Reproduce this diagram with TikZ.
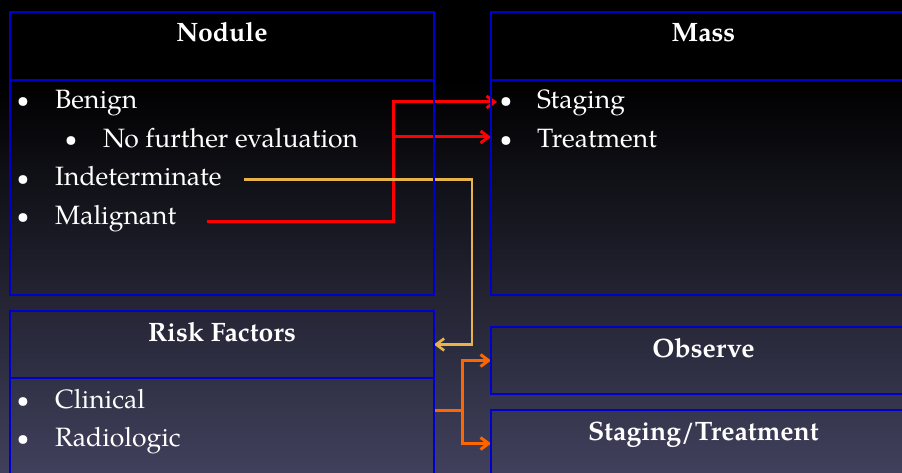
\documentclass[tikz,border=0pt]{standalone}
\usepackage{fontspec}
\setmainfont{TeX Gyre Pagella}
\usetikzlibrary{arrows.meta}
\definecolor{boxblue}{RGB}{0,0,205}
\definecolor{bgbot}{RGB}{64,64,92}
\definecolor{redc}{RGB}{255,0,0}
\definecolor{yelc}{RGB}{232,180,74}
\definecolor{orac}{RGB}{255,102,0}
\pgfdeclarelayer{bglayer}
\pgfdeclarelayer{midlayer}
\pgfsetlayers{bglayer,midlayer,main}
\begin{document}
\begin{tikzpicture}[x=1pt,y=1pt,
  box/.style={draw=boxblue, line width=1.5pt, inner sep=0pt, outer sep=0pt},
  head/.style={text=white, font=\fontsize{26.6}{30}\selectfont\bfseries, anchor=base, inner sep=0pt},
  item/.style={text=white, font=\fontsize{26.5}{30}\selectfont, anchor=base west, inner sep=0pt},
  dot/.style={text=white, font=\fontsize{22}{30}\selectfont, anchor=base, inner sep=0pt},
  conn/.style={line width=3pt, -{Straight Barb[length=8pt,width=12pt]}},
  plain/.style={line width=3pt},
]
\useasboundingbox (0,0) rectangle (902,472);
\clip (0,0) rectangle (902,472);
\begin{pgfonlayer}{bglayer}
  \fill[black] (0,0) rectangle (902,472);
  \shade[top color=black, bottom color=bgbot] (0,0) rectangle (902,392);
\end{pgfonlayer}

% boxes
\node[box, minimum width=424pt, minimum height=68pt] (nodhead) at (222,426) {};
\node[box, minimum width=424pt, minimum height=215pt] (nodbody) at (222,284.5) {};
\node[box, minimum width=425pt, minimum height=68pt] (masshead) at (703.5,426) {};
\node[box, minimum width=425pt, minimum height=215pt] (massbody) at (703.5,284.5) {};
\node[box, minimum width=424pt, minimum height=67pt] (riskhead) at (222,127.5) {};
\node[box, minimum width=424pt, minimum height=162pt] (riskbody) at (222,13) {};
\node[box, minimum width=425pt, minimum height=67pt] (observe) at (703.5,111.5) {};
\node[box, minimum width=425pt, minimum height=67pt] (stagtreat) at (703.5,28.5) {};

% headers
\node[head] (tnodule) at (222,430) {Nodule};
\node[head] (tmass) at (703.5,430) {Mass};
\node[head] (trisk) at (222,131) {Risk Factors};
\node[head] (tobserve) at (703.5,115) {Observe};
\node[head] (tstagtreat) at (703.5,32) {Staging/Treatment};

% nodule items
\node[dot] (b1) at (23,364) {•};
\node[item] (benign) at (55,363) {Benign};
\node[dot] (b2) at (71,325.5) {•};
\node[item] (nofurther) at (103,324.5) {No further evaluation};
\node[dot] (b3) at (23,287) {•};
\node[item] (indet) at (55,286) {Indeterminate};
\node[dot] (b4) at (23,248.5) {•};
\node[item] (malig) at (55,247.5) {Malignant};

% mass items
\node[dot] (b5) at (506,364) {•};
\node[item] (staging) at (537,363) {Staging};
\node[dot] (b6) at (506,325.5) {•};
\node[item] (treatment) at (537,324.5) {Treatment};

% risk items
\node[dot] (b7) at (23,65) {•};
\node[item] (clinical) at (55,64) {Clinical};
\node[dot] (b8) at (23,27) {•};
\node[item] (radio) at (55,26) {Radiologic};

% connector ends
\coordinate (redstart) at (207,251);
\coordinate (stagtip) at (497,370);
\coordinate (treattip) at (massbody.west |- 0,335);
\coordinate (yelstart) at (244,292.5);
\coordinate (orastart) at (riskbody.east |- 0,62);

\begin{pgfonlayer}{midlayer}
  \draw[conn, draw=redc] (redstart) -- ++(186,0) coordinate (rv) |- (stagtip);
  \draw[conn, draw=redc] (rv |- treattip) -- (treattip);
  \draw[conn, draw=yelc, line width=2.6pt] (yelstart) -- ++(228,0) |- (riskhead.east);
  \draw[plain, draw=orac] (orastart) -- ++(28,0) coordinate (oj);
  \draw[conn, draw=orac] (oj) |- (observe.west);
  \draw[conn, draw=orac] (oj) |- (stagtreat.west);
\end{pgfonlayer}
\end{tikzpicture}
\end{document}
